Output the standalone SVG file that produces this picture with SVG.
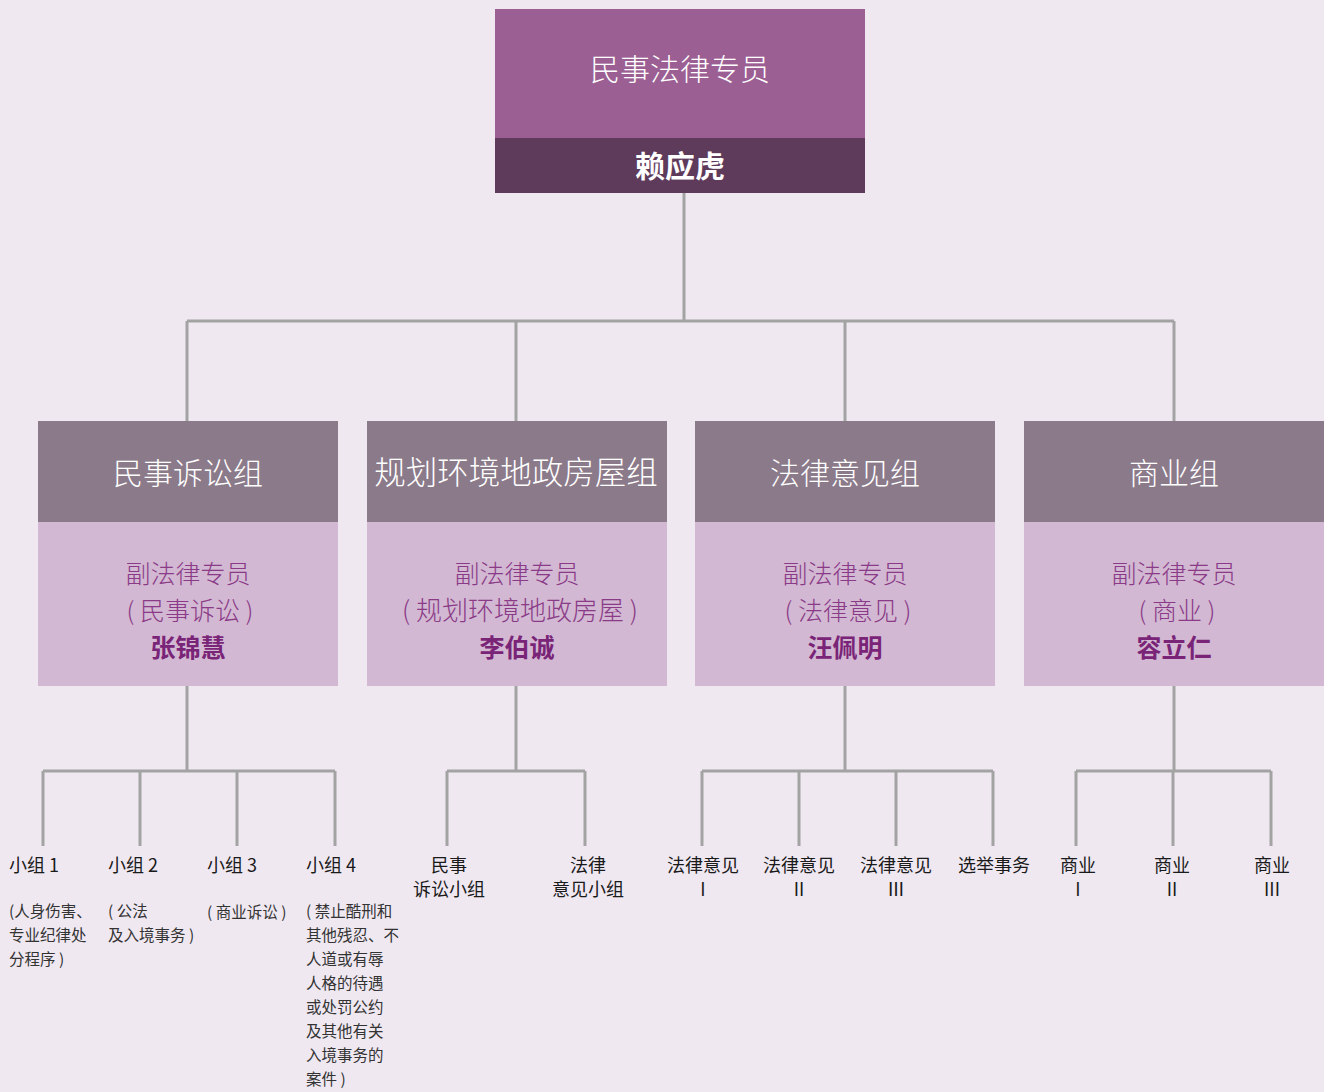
<svg xmlns="http://www.w3.org/2000/svg" width="1324" height="1092" viewBox="0 0 1324 1092">
<style>
text{font-family:"Noto Sans CJK SC","Liberation Sans",sans-serif}
.c{text-anchor:middle}
.hd{font-size:30px;fill:#ffffff;text-anchor:middle;font-weight:300}
.sub{font-size:25px;fill:#8a3a87;text-anchor:middle;font-weight:300}
.nm{font-size:25px;fill:#7a2478;font-weight:bold;text-anchor:middle}
.lf{font-size:18px;fill:#1a1a1a}
.ds{font-size:15.5px;fill:#333333}
.ln{stroke:#a3a3a3;stroke-width:3;fill:none}
</style>
<rect width="1324" height="1092" fill="#efe8f1"/>
<g id="connectors" class="ln">
<path d="M684 193V321M187 321H1174M187 321V421M516 321V421M845 321V421M1174 321V421"/>
<path d="M187 686V771M43 771H335M43 771V846M140 771V846M237 771V846M335 771V846"/>
<path d="M516 686V771M447 771H585M447 771V846M585 771V846"/>
<path d="M845 686V771M702 771H993M702 771V846M799 771V846M896 771V846M993 771V846"/>
<path d="M1174 686V771M1076 771H1271M1076 771V846M1173 771V846M1271 771V846"/>
</g>
<g id="top">
<rect x="495" y="9" width="370" height="129" fill="#9b5f93"/>
<rect x="495" y="138" width="370" height="55" fill="#5e3a5b"/>
<text x="680" y="80" class="hd">民事法律专员</text>
<text x="680" y="177" class="hd" style="font-weight:bold">赖应虎</text>
</g>
<g id="g1">
<rect x="38" y="421" width="300" height="101" fill="#8b7a8a"/>
<rect x="38" y="522" width="300" height="164" fill="#d2b8d2"/>
<text x="188" y="484" class="hd">民事诉讼组</text>
<text x="188" y="583" class="sub">副法律专员</text>
<text x="190" y="620" class="sub">( 民事诉讼 )</text>
<text x="188" y="657" class="nm">张锦慧</text>
</g>
<g id="g2">
<rect x="367" y="421" width="300" height="101" fill="#8b7a8a"/>
<rect x="367" y="522" width="300" height="164" fill="#d2b8d2"/>
<text x="516" y="484" class="hd" style="font-size:31.5px">规划环境地政房屋组</text>
<text x="517" y="583" class="sub">副法律专员</text>
<text x="520" y="620" class="sub" style="font-size:26px">( 规划环境地政房屋 )</text>
<text x="517" y="657" class="nm">李伯诚</text>
</g>
<g id="g3">
<rect x="695" y="421" width="300" height="101" fill="#8b7a8a"/>
<rect x="695" y="522" width="300" height="164" fill="#d2b8d2"/>
<text x="845" y="484" class="hd">法律意见组</text>
<text x="845" y="583" class="sub">副法律专员</text>
<text x="848" y="620" class="sub">( 法律意见 )</text>
<text x="845" y="657" class="nm">汪佩明</text>
</g>
<g id="g4">
<rect x="1024" y="421" width="300" height="101" fill="#8b7a8a"/>
<rect x="1024" y="522" width="300" height="164" fill="#d2b8d2"/>
<text x="1174" y="484" class="hd">商业组</text>
<text x="1174" y="583" class="sub">副法律专员</text>
<text x="1177" y="620" class="sub">( 商业 )</text>
<text x="1174" y="657" class="nm">容立仁</text>
</g>
<g id="leaf1">
<text x="9" y="872" class="lf">小组 1</text>
<text class="ds"><tspan x="9" y="917">(人身伤害、</tspan><tspan x="9" y="941">专业纪律处</tspan><tspan x="9" y="965">分程序 )</tspan></text>
</g>
<g id="leaf2">
<text x="108" y="872" class="lf">小组 2</text>
<text class="ds"><tspan x="108" y="917">( 公法</tspan><tspan x="108" y="941">及入境事务 )</tspan></text>
</g>
<g id="leaf3">
<text x="207" y="872" class="lf">小组 3</text>
<text class="ds"><tspan x="207" y="918">( 商业诉讼 )</tspan></text>
</g>
<g id="leaf4">
<text x="306" y="872" class="lf">小组 4</text>
<text class="ds"><tspan x="306" y="917">( 禁止酷刑和</tspan><tspan x="306" y="941">其他残忍、不</tspan><tspan x="306" y="965">人道或有辱</tspan><tspan x="306" y="989">人格的待遇</tspan><tspan x="306" y="1013">或处罚公约</tspan><tspan x="306" y="1037">及其他有关</tspan><tspan x="306" y="1061">入境事务的</tspan><tspan x="306" y="1085">案件 )</tspan></text>
</g>
<g id="leaf5"><text class="lf c"><tspan x="449" y="872">民事</tspan><tspan x="449" y="896">诉讼小组</tspan></text></g>
<g id="leaf6"><text class="lf c"><tspan x="588" y="872">法律</tspan><tspan x="588" y="896">意见小组</tspan></text></g>
<g id="leaf7"><text class="lf c"><tspan x="703" y="872">法律意见</tspan><tspan x="703" y="896">I</tspan></text></g>
<g id="leaf8"><text class="lf c"><tspan x="799" y="872">法律意见</tspan><tspan x="799" y="896">II</tspan></text></g>
<g id="leaf9"><text class="lf c"><tspan x="896" y="872">法律意见</tspan><tspan x="896" y="896">Ⅲ</tspan></text></g>
<g id="leaf10"><text class="lf c"><tspan x="994" y="872">选举事务</tspan></text></g>
<g id="leaf11"><text class="lf c"><tspan x="1078" y="872">商业</tspan><tspan x="1078" y="896">I</tspan></text></g>
<g id="leaf12"><text class="lf c"><tspan x="1172" y="872">商业</tspan><tspan x="1172" y="896">II</tspan></text></g>
<g id="leaf13"><text class="lf c"><tspan x="1272" y="872">商业</tspan><tspan x="1272" y="896">III</tspan></text></g>
</svg>
